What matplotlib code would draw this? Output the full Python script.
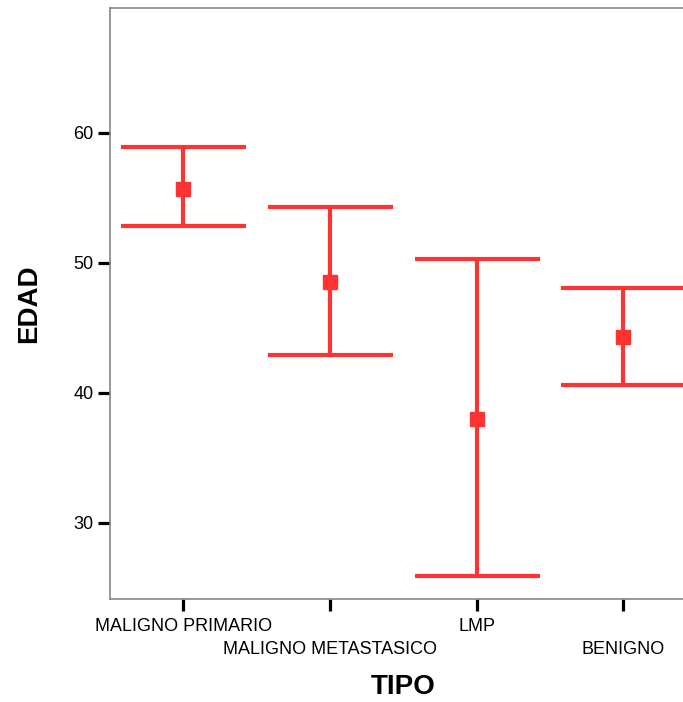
import matplotlib.pyplot as plt

plt.rcParams['font.family'] = ['Liberation Sans', 'DejaVu Sans']

# data
categories = ["MALIGNO PRIMARIO", "MALIGNO METASTASICO", "LMP", "BENIGNO"]
means = [55.7, 48.5, 38.0, 44.3]
upper = [58.9, 54.3, 50.3, 48.1]
lower = [52.8, 42.9, 25.9, 40.6]

red = "#ff3333"

fig = plt.figure(figsize=(6.83, 7.02), dpi=100)
ax = fig.add_axes([0.161, 0.1467, 0.859, 0.842])

x = list(range(len(categories)))
err_lo = [m - l for m, l in zip(means, lower)]
err_hi = [u - m for m, u in zip(means, upper)]
ax.errorbar(x, means, yerr=[err_lo, err_hi], fmt="s", color=red,
            markersize=10, elinewidth=3, capsize=45, capthick=3)

ax.set_xlim(-0.5, 3.5)
ax.set_ylim(24.15, 69.6)
ax.set_yticks([30, 40, 50, 60])
ax.set_xticks(x)
ax.set_xticklabels(categories, fontsize=13)
ax.tick_params(axis="y", labelsize=13)
ax.tick_params(direction="out", length=8.5, width=2.3, color="black")
ax.tick_params(axis="x", pad=5)
# stagger the category labels like the original
for t in ax.xaxis.get_major_ticks()[1::2]:
    t.set_pad(21.5)

for s in ax.spines.values():
    s.set_color("#888888")
    s.set_linewidth(1.2)

ax.set_xlabel("TIPO", fontsize=20, fontweight="bold", labelpad=12)
ax.set_ylabel("EDAD", fontsize=20, fontweight="bold", labelpad=22)

fig.savefig("out.png", dpi=100)
